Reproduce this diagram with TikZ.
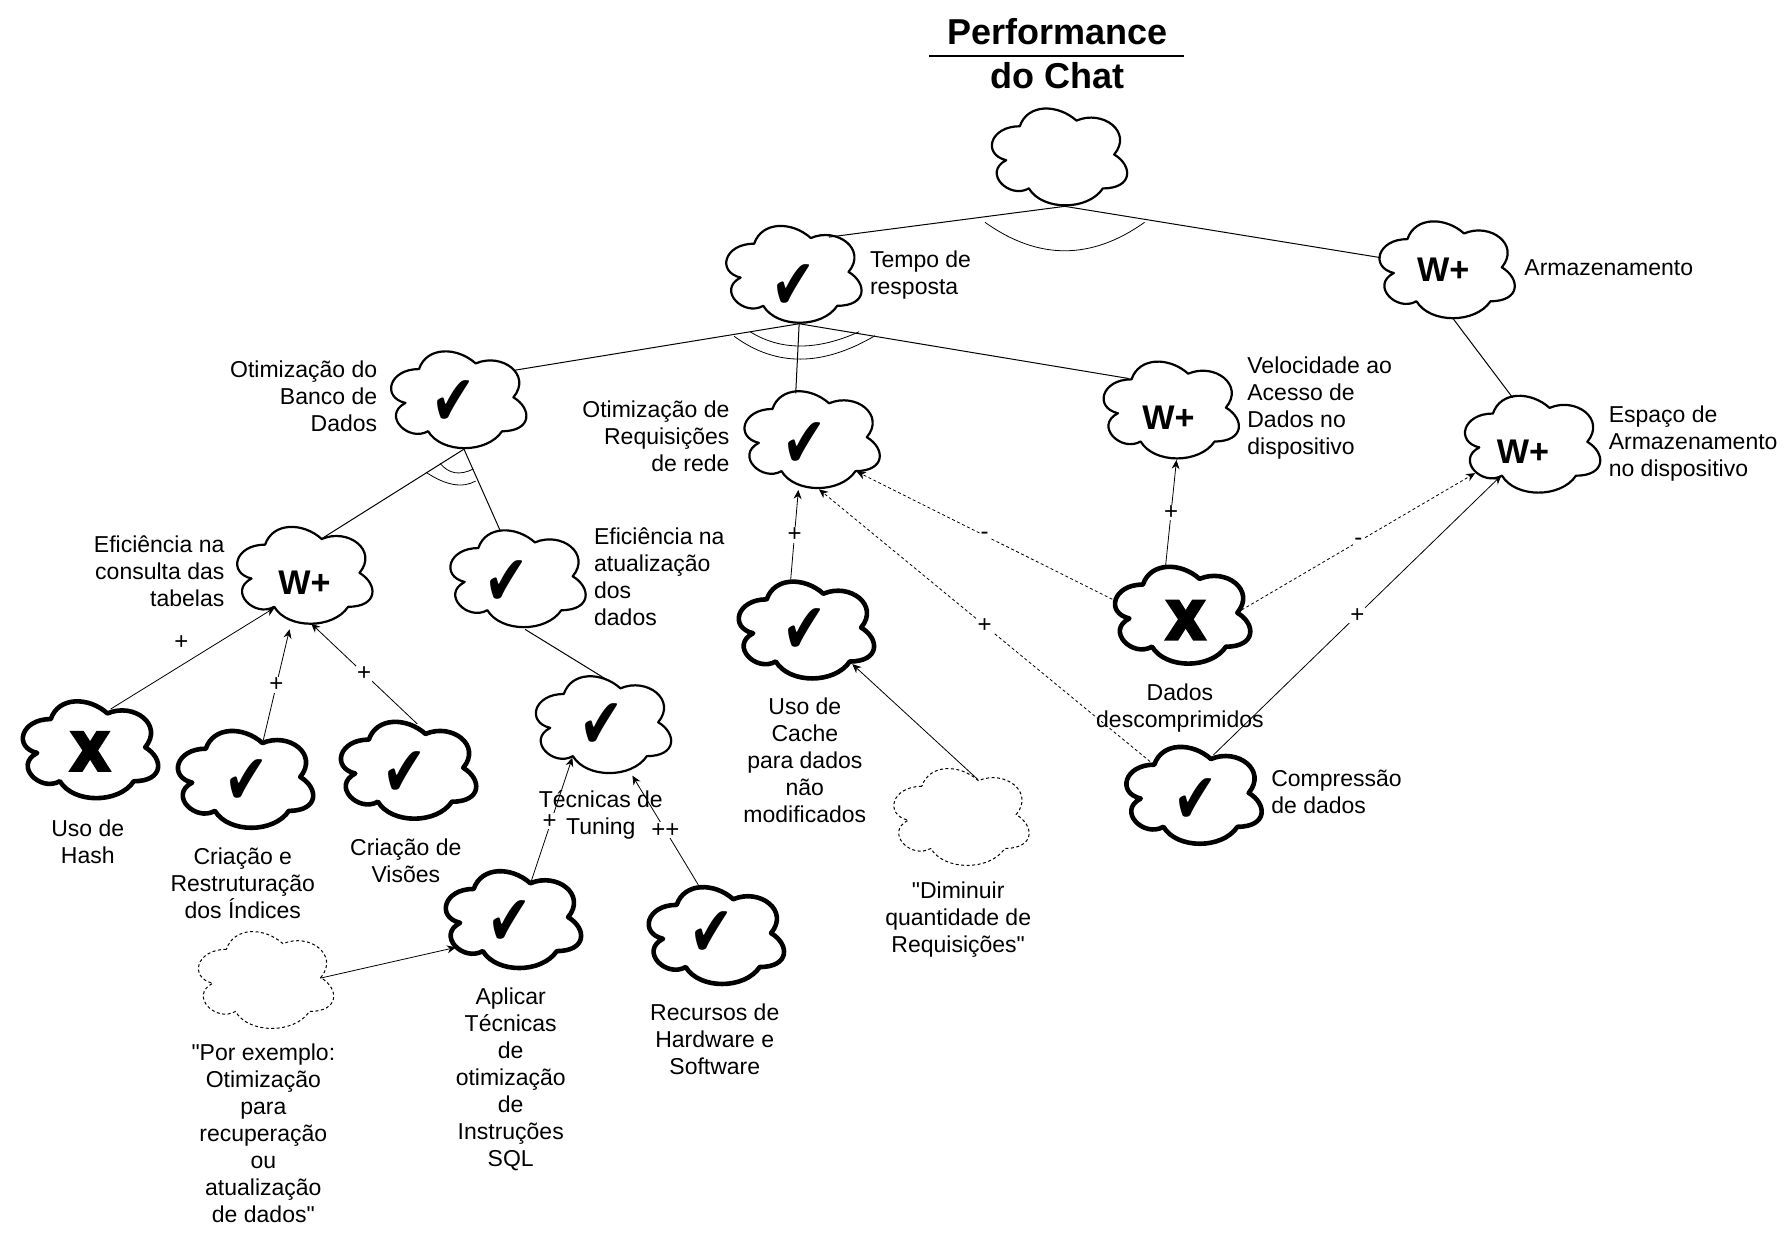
\documentclass[tikz,border=0pt]{standalone}
\usepackage{fontspec}
\usetikzlibrary{arrows.meta}
\setmainfont{Liberation Sans}[Ligatures=TeXOff]
\newfontfamily\checkfont{DejaVu Sans}
\newfontfamily\crossfont[FakeBold=10]{Liberation Sans Bold}
\tikzset{
  softcloud/.pic={
    \draw[pic actions,x=151pt,y=-113pt,shift={(-0.51,-0.525)}] (0.25,0.25)
      .. controls (0.05,0.25) and (0,0.5) .. (0.16,0.55)
      .. controls (0,0.66) and (0.18,0.9) .. (0.31,0.8)
      .. controls (0.4,1) and (0.7,1) .. (0.8,0.8)
      .. controls (1,0.8) and (1,0.6) .. (0.875,0.5)
      .. controls (1,0.3) and (0.8,0.1) .. (0.625,0.2)
      .. controls (0.5,0.05) and (0.3,0.05) .. (0.25,0.25) -- cycle;
  },
  softthin/.style={line width=2.2pt,line join=round},
  softthick/.style={line width=4.6pt,line join=round},
  softdash/.style={line width=1pt,dash pattern=on 3pt off 2.5pt},
  softnode/.style={minimum width=137pt,minimum height=98pt,inner sep=0pt},
  checkmark/.style={font=\fontsize{56}{56}\checkfont\selectfont,inner sep=0pt,yshift=-2pt},
  crossmark/.style={font=\fontsize{52}{52}\crossfont\selectfont,inner sep=0pt},
  wplus/.style={font=\fontsize{34.2}{36}\bfseries\selectfont,inner sep=0pt},
  txt/.style={font=\fontsize{23}{27}\selectfont,align=center,inner sep=0pt},
  txtl/.style={txt,align=left,anchor=west},
  txtr/.style={txt,align=right,anchor=east},
  titletxt/.style={font=\fontsize{36}{43}\bfseries\selectfont,inner sep=0pt},
  edgelabel/.style={font=\fontsize{24}{24}\selectfont,fill=white,inner sep=1pt,midway},
  decomp/.style={line width=1pt},
  contrib/.style={line width=0.8pt,-{Stealth[length=9pt,width=8pt]}},
  contribd/.style={contrib,dash pattern=on 3pt off 2.5pt},
  andarc/.style={line width=0.8pt},
}
\newcommand{\tick}{\scalebox{0.94}[1.27]{✔}}
\begin{document}
\begin{tikzpicture}[x=1.14pt,y=-1.14pt]
  \useasboundingbox (0,0) rectangle (1568.4,1086);

  \node[titletxt] (titleup) at (928,28) {Performance};
  \node[titletxt] (titledown) at (928,66) {do Chat};
  \coordinate (ruleleft) at (815,49);
  \coordinate (ruleright) at (1039,49);
  \draw[line width=1.6pt] (ruleleft) -- (ruleright);

  \path (929,138) pic[softthin] {softcloud} node[softnode] (root) {};
  \path (696,241) pic[softthin] {softcloud} node[softnode] (tempo) {};
  \path (1269,237) pic[softthin] {softcloud} node[softnode] (arm) {};
  \path (402,351) pic[softthin] {softcloud} node[softnode] (banco) {};
  \path (712,386) pic[softthin] {softcloud} node[softnode] (req) {};
  \path (1027,360) pic[softthin] {softcloud} node[softnode] (vel) {};
  \path (1344,390) pic[softthin] {softcloud} node[softnode] (esp) {};
  \path (267,505) pic[softthin] {softcloud} node[softnode] (consulta) {};
  \path (454,508) pic[softthin] {softcloud} node[softnode] (atual) {};
  \path (529,636) pic[softthin] {softcloud} node[softnode] (tuning) {};
  \path (707,553) pic[softthick] {softcloud} node[softnode] (cache) {};
  \path (1037,540) pic[softthick] {softcloud} node[softnode] (dados) {};
  \path (1047,698) pic[softthick] {softcloud} node[softnode] (comp) {};
  \path (79,658) pic[softthick] {softcloud} node[softnode] (hash) {};
  \path (215,684) pic[softthick] {softcloud} node[softnode] (indices) {};
  \path (358,676) pic[softthick] {softcloud} node[softnode] (visoes) {};
  \path (450,807) pic[softthick] {softcloud} node[softnode] (aplicar) {};
  \path (628,821) pic[softthick] {softcloud} node[softnode] (recursos) {};
  \path (843,717) pic[softdash] {softcloud} node[softnode] (diminuir) {};
  \path (233,860) pic[softdash] {softcloud} node[softnode] (exemplo) {};

  \node[checkmark] (tempomark) at (696,250) {\tick};
  \node[checkmark] (bancomark) at (398,352) {\tick};
  \node[checkmark] (reqmark) at (706,389) {\tick};
  \node[checkmark] (atualmark) at (444,510) {\tick};
  \node[checkmark] (tuningmark) at (528,635) {\tick};
  \node[checkmark] (cachemark) at (706,552) {\tick};
  \node[checkmark] (compmark) at (1049,701) {\tick};
  \node[checkmark] (indicesmark) at (216,684) {\tick};
  \node[checkmark] (visoesmark) at (355,677) {\tick};
  \node[checkmark] (aplicarmark) at (447,808) {\tick};
  \node[checkmark] (recursosmark) at (624,818) {\tick};
  \node[wplus] (armmark) at (1266,237) {W+};
  \node[wplus] (velmark) at (1025,366) {W+};
  \node[wplus] (espmark) at (1336,396) {W+};
  \node[wplus] (consultamark) at (267,511) {W+};
  \node[crossmark] (dadosmark) at (1040,544) {X};
  \node[crossmark] (hashmark) at (79,659) {X};

  \node[txtl] (tempotxt) at (763,241) {Tempo de\\resposta};
  \node[txtl] (armtxt) at (1337,235) {Armazenamento};
  \node[txtr] (bancotxt) at (331,348) {Otimização do\\Banco de\\Dados};
  \node[txtr] (reqtxt) at (640,383) {Otimização de\\Requisições\\de rede};
  \node[txtl] (veltxt) at (1094,358) {Velocidade ao\\Acesso de\\Dados no\\dispositivo};
  \node[txtl] (esptxt) at (1411,389) {Espaço de\\Armazenamento\\no dispositivo};
  \node[txtr] (consultatxt) at (197,501.5) {Eficiência na\\consulta das\\tabelas};
  \node[txtl] (atualtxt) at (521,505.5) {Eficiência na\\atualização\\dos\\dados};
  \node[txt] (tuningtxt) at (527,715) {Técnicas de\\Tuning};
  \node[txt] (cachetxt) at (706,667) {Uso de\\Cache\\para dados\\não\\modificados};
  \node[txt] (dadostxt) at (1035,621) {Dados\\descomprimidos};
  \node[txtl] (comptxt) at (1115,695) {Compressão\\de dados};
  \node[txt] (hashtxt) at (77,738.5) {Uso de\\Hash};
  \node[txt] (indicestxt) at (213,775) {Criação e\\Restruturação\\dos Índices};
  \node[txt] (visoestxt) at (356,755) {Criação de\\Visões};
  \node[txt] (aplicartxt) at (448,947) {Aplicar\\Técnicas\\de\\otimização\\de\\Instruções\\SQL};
  \node[txt] (recursostxt) at (627,911.5) {Recursos de\\Hardware e\\Software};
  \node[txt] (diminuirtxt) at (840.5,807) {"Diminuir\\quantidade de\\Requisições"};
  \node[txt] (exemplotxt) at (231,994) {"Por exemplo:\\Otimização\\para\\recuperação\\ou\\atualização\\de dados"};

  \draw[decomp] ([shift={(5,43)}]root.center) -- ([shift={(31,-33)}]tempo.center);
  \draw[decomp] ([shift={(5,43)}]root.center) -- ([shift={(-58,-11)}]arm.center);
  \draw[decomp] ([shift={(5,43)}]tempo.center) -- ([shift={(48,-26)}]banco.center);
  \draw[decomp] ([shift={(5,43)}]tempo.center) -- ([shift={(-14,-41)}]req.center);
  \draw[decomp] ([shift={(5,43)}]tempo.center) -- ([shift={(-37,-28)}]vel.center);
  \draw[decomp] ([shift={(6,43)}]arm.center) -- ([shift={(-17,-41)}]esp.center);
  \draw[decomp] ([shift={(5,43)}]banco.center) -- ([shift={(16,-33)}]consulta.center);
  \draw[decomp] ([shift={(5,43)}]banco.center) -- ([shift={(-15,-42)}]atual.center);
  \draw[decomp] ([shift={(6.5,44)}]atual.center) -- ([shift={(3,-40)}]tuning.center);

  \draw[andarc] (864,195) .. controls (910.7,228.3) and (957.3,228.3) .. (1004,195);
  \draw[andarc] (658,291) .. controls (684.8,307.7) and (716.6,307.7) .. (753.6,291);
  \draw[andarc] (644,295) .. controls (680.5,321.8) and (721.3,321.7) .. (767.5,294.5);
  \draw[andarc] (386,406.4) .. controls (393.6,415.7) and (403.3,417.3) .. (415.2,411.4);
  \draw[andarc] (373.7,414.3) .. controls (391.2,425.9) and (405.7,428.4) .. (417.2,422);

  \draw[contrib] ([shift={(18,-36)}]hash.center) -- node[edgelabel,shift={(-10,-13.5)},fill=none] (lhash) {+} ([shift={(-26,28)}]consulta.center);
  \draw[contrib] ([shift={(16,-35)}]indices.center) -- node[edgelabel] (lindices) {+} ([shift={(-13,47)}]consulta.center);
  \draw[contrib] ([shift={(8,-41)}]visoes.center) -- node[edgelabel] (lvisoes) {+} ([shift={(6,42)}]consulta.center);
  \draw[contrib] ([shift={(16,-34)}]aplicar.center) -- node[edgelabel,pos=0.486,xshift=-1.5pt] (laplicar) {+} ([shift={(-27,28.6)}]tuning.center);
  \draw[contrib] ([shift={(-15.4,-44.7)}]recursos.center) -- node[edgelabel] (lrecursos) {++} ([shift={(25.7,44.4)}]tuning.center);
  \draw[contrib] ([shift={(48,-2)}]exemplo.center) -- ([shift={(-50,24)}]aplicar.center);
  \draw[contrib] ([shift={(-13.4,-44.8)}]cache.center) -- node[edgelabel] (lcache) {+} ([shift={(-11.7,43.8)}]req.center);
  \draw[contrib] ([shift={(15,-33)}]diminuir.center) -- ([shift={(40.6,29.5)}]cache.center);
  \draw[contribd] ([shift={(-61.3,-14.3)}]dados.center) -- node[edgelabel] (ldadosreq) {-} ([shift={(39.5,27.7)}]req.center);
  \draw[contribd] ([shift={(-38.2,-30)}]comp.center) -- node[edgelabel] (lcompreq) {+} ([shift={(6.4,43.2)}]req.center);
  \draw[contrib] ([shift={(-14.5,-44.4)}]dados.center) -- node[edgelabel] (ldadosvel) {+} ([shift={(5,43.5)}]vel.center);
  \draw[contribd] ([shift={(52.2,-5)}]dados.center) -- node[edgelabel] (ldadosesp) {-} ([shift={(-50,25)}]esp.center);
  \draw[contrib] ([shift={(17.3,-35.7)}]comp.center) -- node[edgelabel] (lcompesp) {+} ([shift={(-27,27)}]esp.center);
\end{tikzpicture}
\end{document}
